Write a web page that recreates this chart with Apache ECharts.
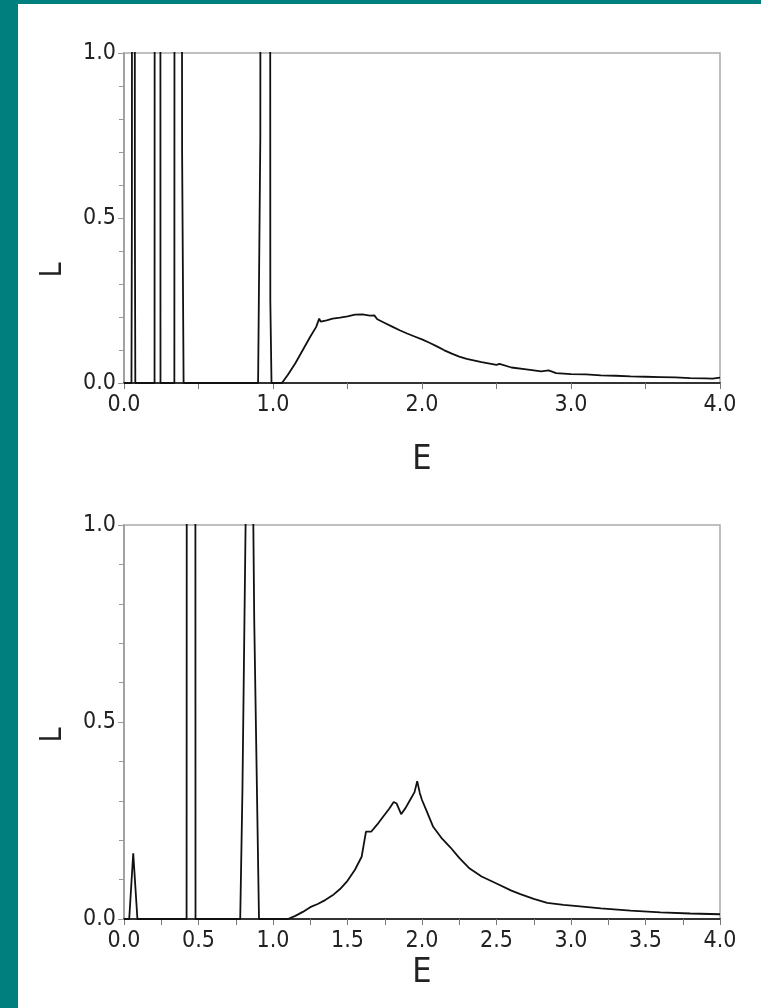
<!DOCTYPE html>
<html>
<head>
<meta charset="utf-8">
<script src="https://cdn.jsdelivr.net/npm/echarts@6/dist/echarts.min.js"></script>
<style>
html,body{margin:0;padding:0;background:#fff;}
#c{width:761px;height:1008px;}
</style>
</head>
<body>
<div id="c"></div>
<script>
// Top panel: energy E and L values (spikes rise beyond the 1.0 axis limit and are clipped)
const topE = [0, 0.05, 0.053, 0.056, 0.07, 0.073, 0.076, 0.205, 0.208, 0.242, 0.245, 0.338, 0.341, 0.382, 0.39, 0.40,
  0.90, 0.905, 0.915, 0.919, 0.978, 0.982, 0.99,
  1.06, 1.10, 1.15, 1.20, 1.25, 1.29, 1.31, 1.32, 1.36, 1.40, 1.45, 1.50, 1.55, 1.60, 1.65, 1.68, 1.70, 1.75, 1.80,
  1.85, 1.90, 1.95, 2.00, 2.05, 2.10, 2.15, 2.20, 2.25, 2.30, 2.40, 2.50, 2.52, 2.60, 2.70, 2.80, 2.85, 2.90, 3.00,
  3.10, 3.20, 3.30, 3.40, 3.50, 3.60, 3.70, 3.80, 3.90, 3.95, 4.00];
const topL = [0, 0, 0.5, 5, 5, 0.5, 0, 0, 5, 5, 0, 0, 5, 5, 0.7, 0,
  0, 0.25, 0.75, 5, 5, 0.25, 0,
  0, 0.025, 0.06, 0.10, 0.14, 0.17, 0.195, 0.186, 0.19, 0.195, 0.198, 0.202, 0.207, 0.208, 0.204, 0.205, 0.193, 0.182, 0.171,
  0.160, 0.150, 0.141, 0.132, 0.122, 0.111, 0.099, 0.089, 0.080, 0.073, 0.063, 0.055, 0.058, 0.047, 0.041, 0.035, 0.038, 0.030, 0.027,
  0.026, 0.023, 0.022, 0.020, 0.019, 0.018, 0.017, 0.015, 0.014, 0.013, 0.016];

// Bottom panel
const botE = [0, 0.035, 0.062, 0.09, 0.42, 0.425, 0.476, 0.48, 0.78, 0.795, 0.816, 0.84, 0.868, 0.874, 0.906,
  1.10, 1.15, 1.20, 1.25, 1.30, 1.35, 1.40, 1.45, 1.50, 1.55, 1.595, 1.624, 1.66, 1.70, 1.74, 1.78, 1.81, 1.83, 1.86,
  1.89, 1.92, 1.95, 1.968, 1.985, 2.00, 2.03, 2.075, 2.13, 2.19, 2.25, 2.32, 2.40, 2.50, 2.60, 2.66, 2.75, 2.84,
  2.95, 3.06, 3.20, 3.40, 3.60, 3.80, 4.00];
const botL = [0, 0, 0.167, 0, 0, 5, 5, 0, 0, 0.33, 1.0, 5, 1.0, 0.76, 0,
  0, 0.008, 0.018, 0.030, 0.038, 0.048, 0.060, 0.076, 0.097, 0.125, 0.158, 0.222, 0.222, 0.240, 0.260, 0.280, 0.297, 0.293, 0.266,
  0.282, 0.302, 0.322, 0.350, 0.320, 0.302, 0.275, 0.234, 0.206, 0.182, 0.155, 0.128, 0.108, 0.090, 0.072, 0.063, 0.051, 0.041,
  0.036, 0.032, 0.027, 0.021, 0.017, 0.014, 0.012];

const yTicks = [0, 0.5, 1.0];
const xTicksTop = [0, 1, 2, 3, 4];
const xTicksBot = [0, 0.5, 1, 1.5, 2, 2.5, 3, 3.5, 4];
const axisTitleX = 'E';
const axisTitleY = 'L';

const FONT = "'Liberation Sans Narrow', 'DejaVu Sans Condensed', 'Liberation Sans', sans-serif";
const pairs = (xs, ys) => xs.map((x, i) => [x, ys[i]]);

function xAxisCfg(grid, interval, gap) {
  return {
    type: 'value', gridIndex: grid, min: 0, max: 4, interval: interval,
    name: axisTitleX, nameLocation: 'middle', nameGap: gap,
    nameTextStyle: {fontFamily: FONT, fontSize: 34, color: '#222'},
    axisLine: {show: true, onZero: false, lineStyle: {color: '#333', width: 2}},
    axisTick: {show: true, inside: false, length: 6, lineStyle: {color: '#777'}},
    minorTick: {show: true, splitNumber: 2, length: 6, lineStyle: {color: '#777'}},
    splitLine: {show: false},
    axisLabel: {fontFamily: FONT, fontSize: 23, color: '#222', margin: 11,
      formatter: v => v.toFixed(1)}
  };
}
function yAxisCfg(grid) {
  return {
    type: 'value', gridIndex: grid, min: 0, max: 1, interval: 0.5,
    axisLine: {show: true, lineStyle: {color: '#999', width: 1.5}},
    axisTick: {show: true, inside: false, length: 6, lineStyle: {color: '#999'}},
    minorTick: {show: true, splitNumber: 5, length: 5, lineStyle: {color: '#999'}},
    splitLine: {show: false},
    axisLabel: {fontFamily: FONT, fontSize: 23, color: '#222', margin: 8,
      formatter: v => v.toFixed(1)}
  };
}

const chart = echarts.init(document.getElementById('c'), null, {renderer: 'canvas'});
chart.setOption({
  backgroundColor: '#fff',
  animation: false,
  graphic: [
    {type: 'rect', shape: {x: 0, y: 0, width: 18, height: 1008}, style: {fill: '#007f7f'}, silent: true},
    {type: 'rect', shape: {x: 0, y: 0, width: 761, height: 4}, style: {fill: '#007f7f'}, silent: true},
    {type: 'text', x: 53, y: 270, rotation: Math.PI / 2,
      style: {text: axisTitleY, fontFamily: FONT, fontSize: 30, fill: '#222', align: 'center', verticalAlign: 'middle'}},
    {type: 'text', x: 53, y: 735, rotation: Math.PI / 2,
      style: {text: axisTitleY, fontFamily: FONT, fontSize: 30, fill: '#222', align: 'center', verticalAlign: 'middle'}}
  ],
  grid: [
    {left: 124, top: 53, width: 596, height: 330, show: true, borderColor: '#aaa', borderWidth: 1.5, backgroundColor: 'transparent'},
    {left: 124, top: 525, width: 596, height: 394, show: true, borderColor: '#aaa', borderWidth: 1.5, backgroundColor: 'transparent'}
  ],
  xAxis: [xAxisCfg(0, 1, 60), xAxisCfg(1, 0.5, 37)],
  yAxis: [yAxisCfg(0), yAxisCfg(1)],
  series: [
    {type: 'line', xAxisIndex: 0, yAxisIndex: 0, data: pairs(topE, topL), showSymbol: false, symbol: 'none',
      clip: true, lineStyle: {color: '#111', width: 1.8}},
    {type: 'line', xAxisIndex: 1, yAxisIndex: 1, data: pairs(botE, botL), showSymbol: false, symbol: 'none',
      clip: true, lineStyle: {color: '#111', width: 1.8}}
  ]
});
</script>
</body>
</html>
